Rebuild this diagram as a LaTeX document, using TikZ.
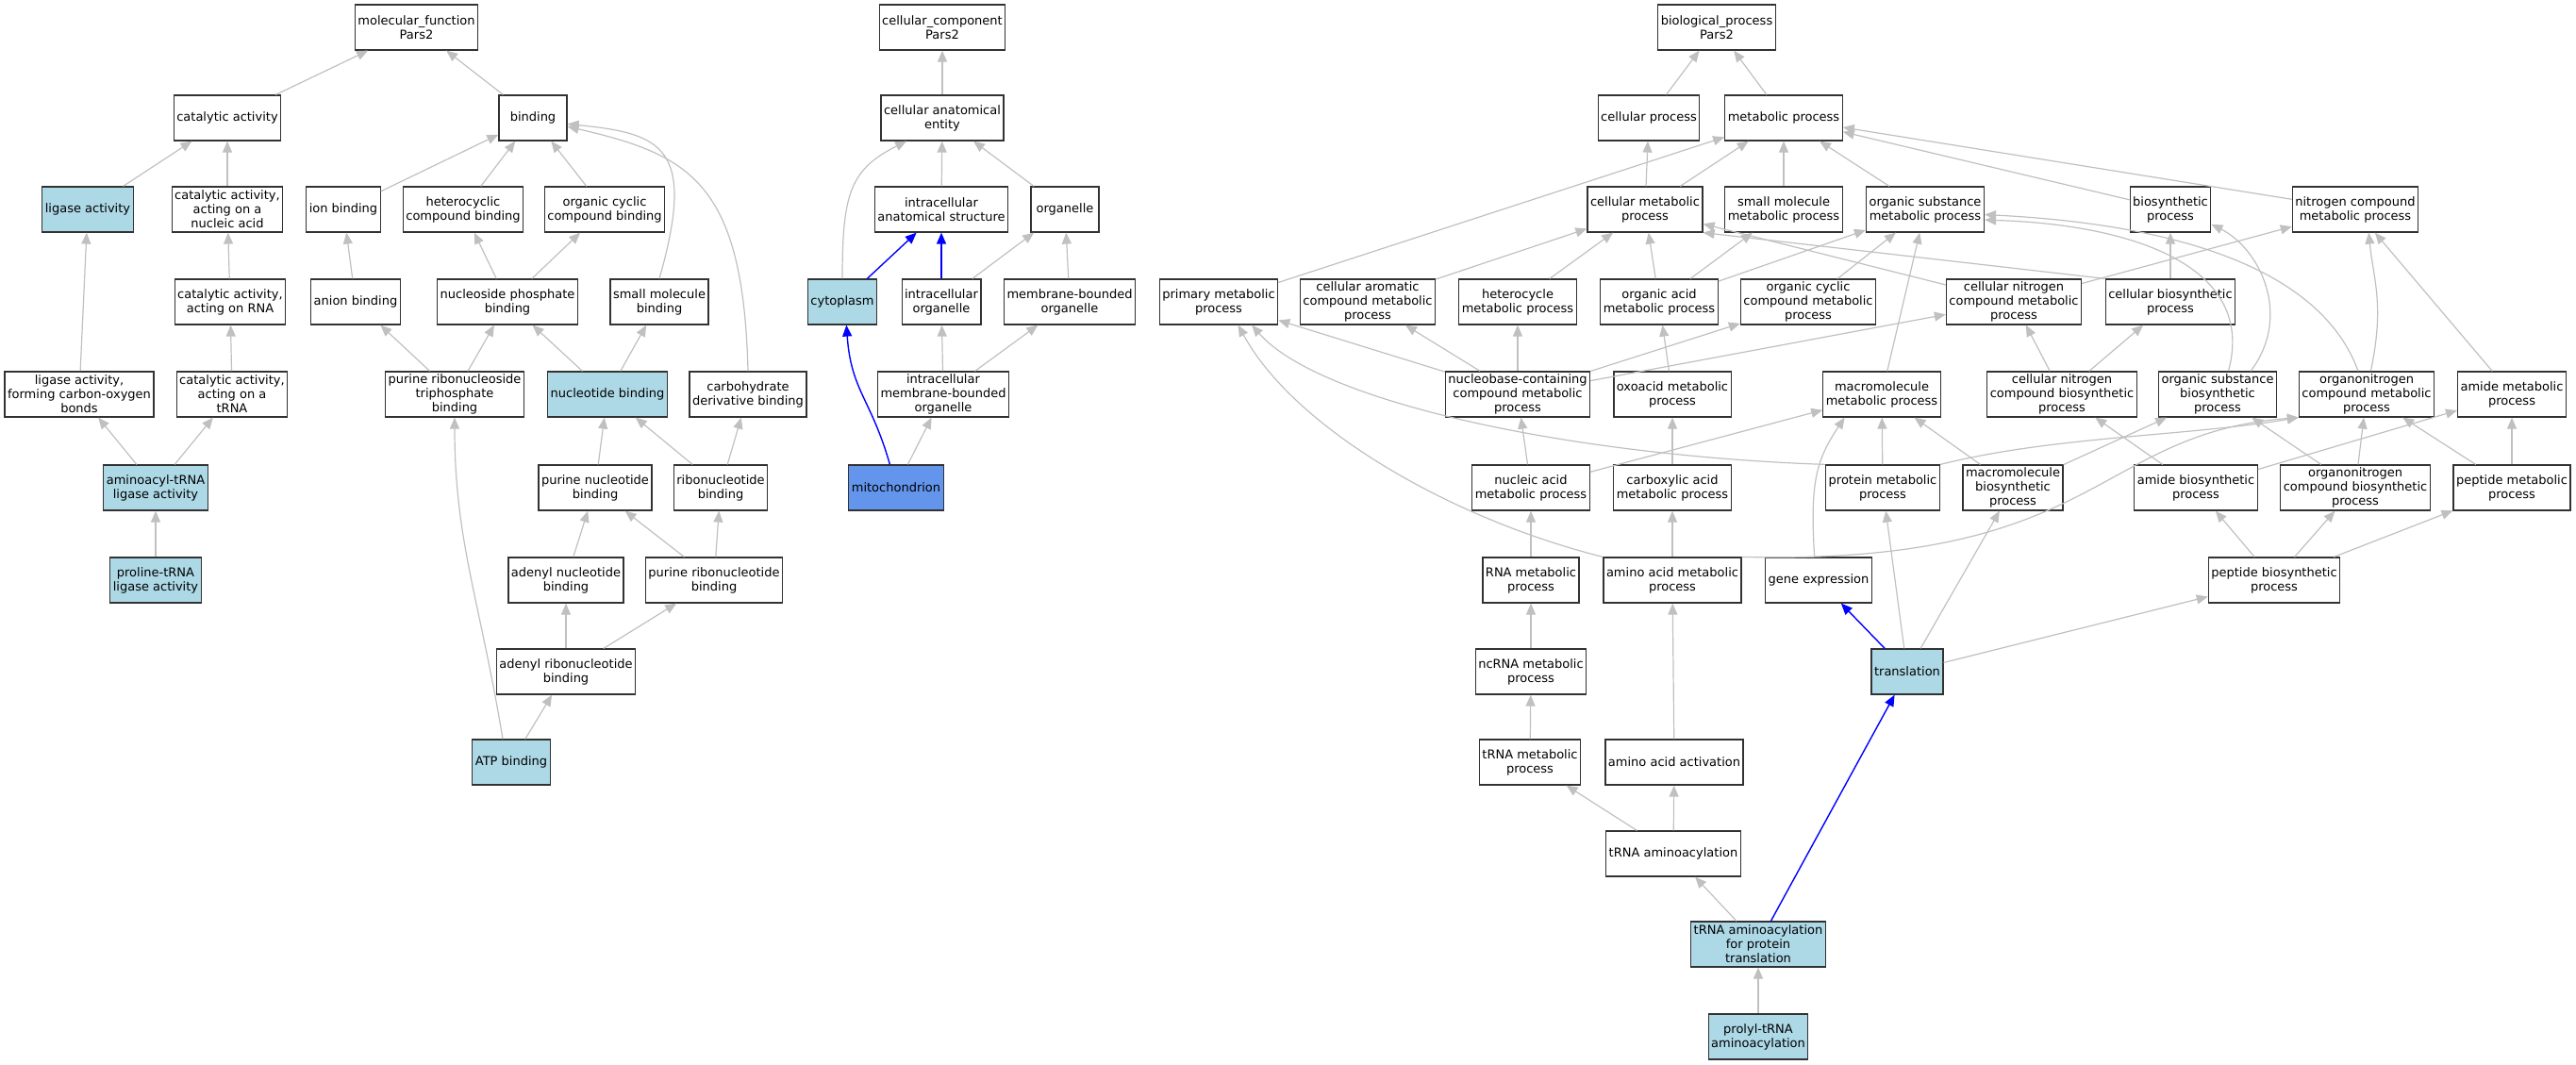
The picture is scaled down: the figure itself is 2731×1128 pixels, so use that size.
\documentclass[tikz,border=0pt]{standalone}
\usepackage{fontspec}
\setmainfont{DejaVu Sans}
\usepackage{tikz}
\usetikzlibrary{arrows.meta}
\definecolor{lightblue}{RGB}{173,216,230}
\definecolor{cornflower}{RGB}{100,149,237}
\definecolor{edgegray}{RGB}{192,192,192}
\definecolor{boxline}{RGB}{50,50,50}

\begin{document}
\begin{tikzpicture}[x=1pt, y=-1pt,
  term/.style={draw=boxline, line width=1.2pt, fill=white, rectangle, align=center,
    inner xsep=3pt, inner ysep=2pt, minimum width=72pt, minimum height=48pt,
    font=\fontsize{13}{15}\selectfont},
  hit/.style={term, fill=lightblue},
  isa/.style={-{Triangle[length=12pt,width=10pt]}, color=edgegray, line width=1.2pt},
  part/.style={-{Triangle[length=12pt,width=10pt]}, color=blue, line width=1.4pt}]
  \useasboundingbox (0,0) rectangle (2731,1128);

  % molecular function
  \node[term] (mf) at (441.5,29) {molecular\_function\\Pars2};
  \node[term] (catact) at (241,125) {catalytic activity};
  \node[term] (bind) at (565,125) {binding};
  \node[hit] (ligase) at (93,222) {ligase activity};
  \node[term] (catna) at (241,222) {catalytic activity,\\acting on a\\nucleic acid};
  \node[term] (ionb) at (364,222) {ion binding};
  \node[term] (hetb) at (491,222) {heterocyclic\\compound binding};
  \node[term] (ocycb) at (641,222) {organic cyclic\\compound binding};
  \node[term] (catrna) at (244,320) {catalytic activity,\\acting on RNA};
  \node[term] (anionb) at (377,320) {anion binding};
  \node[term] (nspb) at (538,320) {nucleoside phosphate\\binding};
  \node[term] (smb) at (699,320) {small molecule\\binding};
  \node[term] (ligco) at (84,418) {ligase activity,\\forming carbon-oxygen\\bonds};
  \node[term] (cattrna) at (246,418) {catalytic activity,\\acting on a\\tRNA};
  \node[term] (prtpb) at (482,418) {purine ribonucleoside\\triphosphate\\binding};
  \node[hit] (ntb) at (644,418) {nucleotide binding};
  \node[term] (carbb) at (793,418) {carbohydrate\\derivative binding};
  \node[hit] (aatrna) at (165,517) {aminoacyl-tRNA\\ligase activity};
  \node[term] (pnb) at (631,517) {purine nucleotide\\binding};
  \node[term] (rnb) at (764,517) {ribonucleotide\\binding};
  \node[hit] (protrna) at (165,615) {proline-tRNA\\ligase activity};
  \node[term] (anb) at (600,615) {adenyl nucleotide\\binding};
  \node[term] (prnb) at (757,615) {purine ribonucleotide\\binding};
  \node[term] (arnb) at (600,712) {adenyl ribonucleotide\\binding};
  \node[hit] (atp) at (542,808) {ATP binding};

  % cellular component
  \node[term] (cc) at (999,29) {cellular\_component\\Pars2};
  \node[term] (cae) at (999,125) {cellular anatomical\\entity};
  \node[term] (ias) at (998,222) {intracellular\\anatomical structure};
  \node[term] (org) at (1129,222) {organelle};
  \node[hit] (cyto) at (893,320) {cytoplasm};
  \node[term] (iorg) at (998,320) {intracellular\\organelle};
  \node[term] (mbo) at (1134,320) {membrane-bounded\\organelle};
  \node[term] (imbo) at (1000,418) {intracellular\\membrane-bounded\\organelle};
  \node[term, fill=cornflower] (mito) at (950,517) {mitochondrion};

  % biological process
  \node[term] (bp) at (1820,29) {biological\_process\\Pars2};
  \node[term] (cellp) at (1748,125) {cellular process};
  \node[term] (metp) at (1891,125) {metabolic process};
  \node[term] (cmp) at (1744,222) {cellular metabolic\\process};
  \node[term] (smmp) at (1891,222) {small molecule\\metabolic process};
  \node[term] (osmp) at (2041,222) {organic substance\\metabolic process};
  \node[term] (biop) at (2301,222) {biosynthetic\\process};
  \node[term] (ncmp) at (2497,222) {nitrogen compound\\metabolic process};
  \node[term] (pmp) at (1292,320) {primary metabolic\\process};
  \node[term] (camp) at (1450,320) {cellular aromatic\\compound metabolic\\process};
  \node[term] (hetmp) at (1609,320) {heterocycle\\metabolic process};
  \node[term] (oamp) at (1759,320) {organic acid\\metabolic process};
  \node[term] (ocmp) at (1917,320) {organic cyclic\\compound metabolic\\process};
  \node[term] (cncmp) at (2135,320) {cellular nitrogen\\compound metabolic\\process};
  \node[term] (cbp) at (2301,320) {cellular biosynthetic\\process};
  \node[term] (nbmp) at (1609,418) {nucleobase-containing\\compound metabolic\\process};
  \node[term] (oxmp) at (1773,418) {oxoacid metabolic\\process};
  \node[term] (mmmp) at (1995,418) {macromolecule\\metabolic process};
  \node[term] (cncbp) at (2186,418) {cellular nitrogen\\compound biosynthetic\\process};
  \node[term] (osbp) at (2351,418) {organic substance\\biosynthetic\\process};
  \node[term] (oncmp) at (2509,418) {organonitrogen\\compound metabolic\\process};
  \node[term] (amp) at (2663,418) {amide metabolic\\process};
  \node[term] (namp) at (1623,517) {nucleic acid\\metabolic process};
  \node[term] (cxmp) at (1773,517) {carboxylic acid\\metabolic process};
  \node[term] (prmp) at (1996,517) {protein metabolic\\process};
  \node[term] (mmbp) at (2134,517) {macromolecule\\biosynthetic\\process};
  \node[term] (abp) at (2328,517) {amide biosynthetic\\process};
  \node[term] (oncbp) at (2497,517) {organonitrogen\\compound biosynthetic\\process};
  \node[term] (pepmp) at (2663,517) {peptide metabolic\\process};
  \node[term] (rnamp) at (1623,615) {RNA metabolic\\process};
  \node[term] (aamp) at (1773,615) {amino acid metabolic\\process};
  \node[term] (genex) at (1928,615) {gene expression};
  \node[term] (pepbp) at (2411,615) {peptide biosynthetic\\process};
  \node[term] (ncrna) at (1623,712) {ncRNA metabolic\\process};
  \node[hit] (transl) at (2022,712) {translation};
  \node[term] (trnamp) at (1622,808) {tRNA metabolic\\process};
  \node[term] (aaact) at (1775,808) {amino acid activation};
  \node[term] (trnaaa) at (1774,905) {tRNA aminoacylation};
  \node[hit] (trnaprot) at (1864,1001) {tRNA aminoacylation\\for protein\\translation};
  \node[hit] (prolyl) at (1864,1099) {prolyl-tRNA\\aminoacylation};

  \draw[isa] (catact) -- (mf);
  \draw[isa] (bind) -- (mf);
  \draw[isa] (ligase) -- (catact);
  \draw[isa] (catna) -- (catact);
  \draw[isa] (ionb) -- (bind);
  \draw[isa] (hetb) -- (bind);
  \draw[isa] (ocycb) -- (bind);
  \draw[isa] (smb.north) .. controls +(40,-140) and +(100,10) .. (bind.-10);
  \draw[isa] (carbb.north) .. controls +(-5,-200) and +(130,30) .. (bind.-14);
  \draw[isa] (catrna) -- (catna);
  \draw[isa] (anionb) -- (ionb);
  \draw[isa] (nspb) -- (hetb);
  \draw[isa] (nspb) -- (ocycb);
  \draw[isa] (cattrna) -- (catrna);
  \draw[isa] (prtpb) -- (anionb);
  \draw[isa] (prtpb) -- (nspb);
  \draw[isa] (ntb) -- (nspb);
  \draw[isa] (ntb) -- (smb);
  \draw[isa] (ligco) -- (ligase);
  \draw[isa] (aatrna) -- (ligco);
  \draw[isa] (aatrna) -- (cattrna);
  \draw[isa] (protrna) -- (aatrna);
  \draw[isa] (pnb) -- (ntb);
  \draw[isa] (rnb) -- (ntb);
  \draw[isa] (rnb) -- (carbb);
  \draw[isa] (anb) -- (pnb);
  \draw[isa] (prnb) -- (pnb);
  \draw[isa] (prnb) -- (rnb);
  \draw[isa] (arnb) -- (anb);
  \draw[isa] (arnb) -- (prnb);
  \draw[isa] (atp) -- (arnb);
  \draw[isa] (atp.110) .. controls +(-25,-150) and +(0,130) .. (prtpb.south);

  \draw[isa] (cae) -- (cc);
  \draw[isa] (ias) -- (cae);
  \draw[isa] (org) -- (cae);
  \draw[isa] (cyto.north) .. controls +(0,-90) and +(-60,30) .. (cae.213);
  \draw[part] (cyto) -- (ias);
  \draw[part] (iorg) -- (ias);
  \draw[isa] (iorg) -- (org);
  \draw[isa] (mbo) -- (org);
  \draw[isa] (imbo) -- (iorg);
  \draw[isa] (imbo) -- (mbo);
  \draw[part] (mito.105) .. controls +(-20,-70) and +(5,70) .. (cyto.-80);
  \draw[isa] (mito) -- (imbo);

  \draw[isa] (cellp) -- (bp);
  \draw[isa] (metp) -- (bp);
  \draw[isa] (cmp) -- (cellp);
  \draw[isa] (cmp) -- (metp);
  \draw[isa] (smmp) -- (metp);
  \draw[isa] (osmp) -- (metp);
  \draw[isa] (biop) -- (metp);
  \draw[isa] (ncmp) -- (metp);
  \draw[isa] (pmp) -- (metp);
  \draw[isa] (camp) -- (cmp);
  \draw[isa] (hetmp) -- (cmp);
  \draw[isa] (oamp) -- (cmp);
  \draw[isa] (oamp) -- (smmp);
  \draw[isa] (oamp) -- (osmp);
  \draw[isa] (ocmp) -- (osmp);
  \draw[isa] (cncmp) -- (cmp);
  \draw[isa] (cncmp) -- (ncmp);
  \draw[isa] (cbp.north west) -- (cmp.south east);
  \draw[isa] (cbp) -- (biop);
  \draw[isa] (nbmp) -- (pmp);
  \draw[isa] (nbmp) -- (camp);
  \draw[isa] (nbmp) -- (hetmp);
  \draw[isa] (nbmp) -- (ocmp);
  \draw[isa] (nbmp) -- (cncmp);
  \draw[isa] (oxmp) -- (oamp);
  \draw[isa] (mmmp) -- (osmp);
  \draw[isa] (cncbp) -- (cncmp);
  \draw[isa] (cncbp) -- (cbp);
  \draw[isa] (osbp.65) .. controls +(30,-110) and +(160,5) .. (osmp.-10);
  \draw[isa] (osbp.35) .. controls +(45,-60) and +(50,25) .. (biop.-20);
  \draw[isa] (oncmp.110) .. controls +(-40,-110) and +(200,10) .. (osmp.-5);
  \draw[isa] (oncmp.80) .. controls +(15,-70) and +(5,50) .. (ncmp.-60);
  \draw[isa] (amp) -- (ncmp);
  \draw[isa] (namp) -- (nbmp);
  \draw[isa] (namp) -- (mmmp);
  \draw[isa] (cxmp) -- (oxmp);
  \draw[isa] (prmp) -- (mmmp);
  \draw[isa] (prmp.north west) .. controls +(-280,-10) and +(70,80) .. (pmp.-35);
  \draw[isa] (prmp.north east) .. controls +(120,-30) and +(-120,20) .. (oncmp.south west);
  \draw[isa] (mmbp) -- (mmmp);
  \draw[isa] (mmbp) -- (osbp);
  \draw[isa] (abp) -- (cncbp);
  \draw[isa] (abp) -- (amp);
  \draw[isa] (oncbp) -- (osbp);
  \draw[isa] (oncbp) -- (oncmp);
  \draw[isa] (pepmp) -- (oncmp);
  \draw[isa] (pepmp) -- (amp);
  \draw[isa] (rnamp) -- (namp);
  \draw[isa] (aamp) -- (cxmp);
  \draw[isa] (aamp.north west) .. controls +(-160,-40) and +(60,110) .. (pmp.-50);
  \draw[isa] (aamp.north east) .. controls +(383,9) and +(-218,17) .. (oncmp.south west);
  \draw[isa] (genex.100) .. controls +(-5,-80) and +(-30,45) .. (mmmp.212);
  \draw[isa] (pepbp) -- (abp);
  \draw[isa] (pepbp) -- (oncbp);
  \draw[isa] (pepbp) -- (pepmp);
  \draw[isa] (ncrna) -- (rnamp);
  \draw[part] (transl) -- (genex);
  \draw[isa] (transl) -- (prmp);
  \draw[isa] (transl) -- (mmbp);
  \draw[isa] (transl) -- (pepbp);
  \draw[isa] (trnamp) -- (ncrna);
  \draw[isa] (aaact) -- (aamp);
  \draw[isa] (trnaaa) -- (trnamp);
  \draw[isa] (trnaaa) -- (aaact);
  \draw[isa] (trnaprot) -- (trnaaa);
  \draw[part] (trnaprot) -- (transl);
  \draw[isa] (prolyl) -- (trnaprot);
\end{tikzpicture}
\end{document}
